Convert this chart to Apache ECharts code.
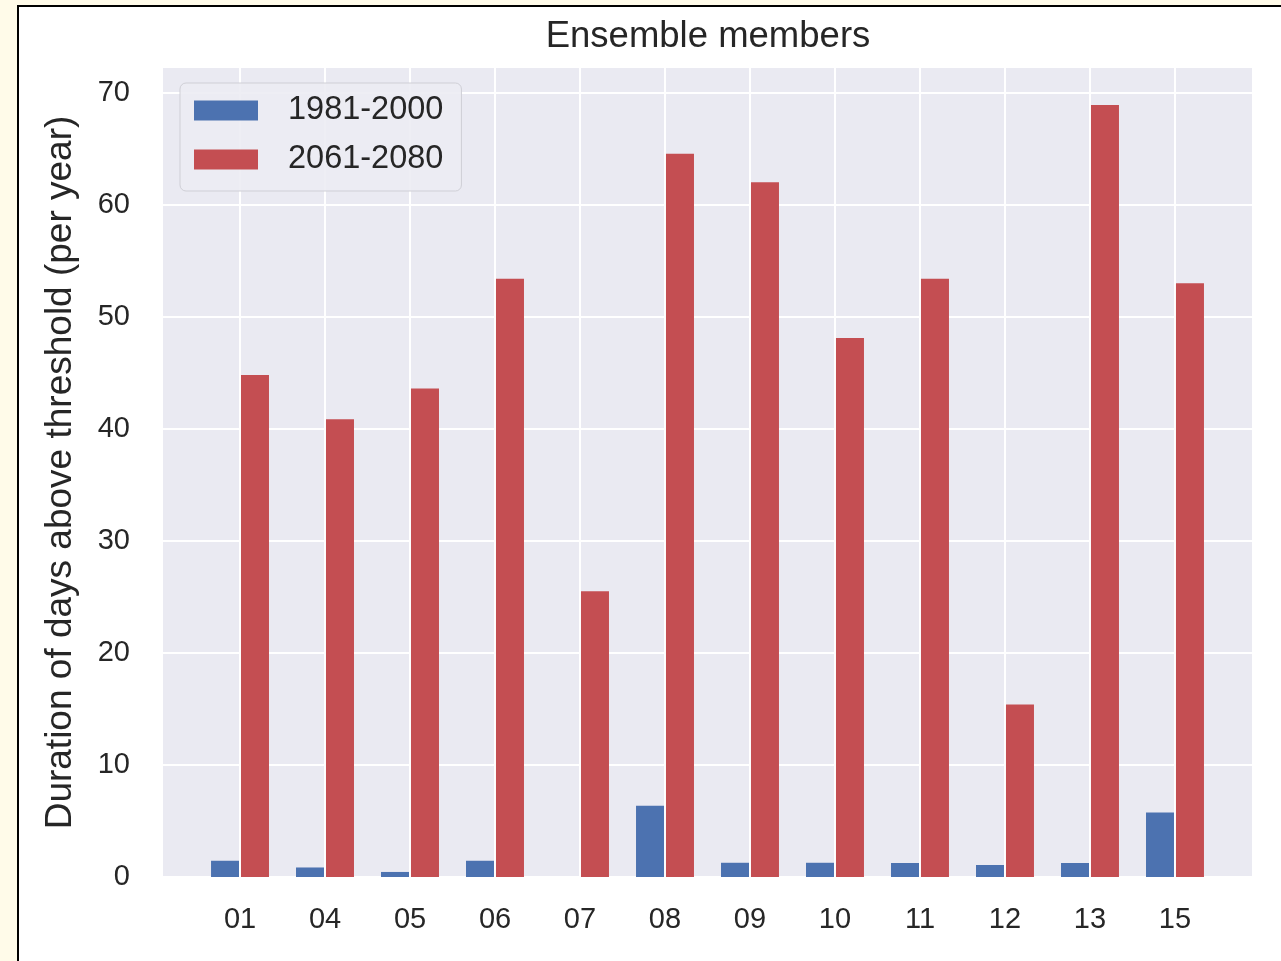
<!DOCTYPE html>
<html>
<head>
<meta charset="utf-8">
<script src="https://cdn.jsdelivr.net/npm/echarts@6/dist/echarts.min.js"></script>
<style>
  html, body { margin: 0; padding: 0; background: #fffbe9; width: 1281px; height: 961px; overflow: hidden; }
  #frame { position: absolute; left: 17px; top: 5px; width: 1300px; height: 1000px; border: 2px solid #000; background: #fff; box-sizing: border-box; }
  #chart { position: absolute; left: 0; top: 0; width: 1281px; height: 961px; }
</style>
</head>
<body>
<div id="frame"></div>
<div id="chart"></div>
<script>
const members = ['01', '04', '05', '06', '07', '08', '09', '10', '11', '12', '13', '15'];
const hist = [1.45, 0.85, 0.45, 1.45, 0, 6.35, 1.27, 1.27, 1.25, 1.07, 1.25, 5.75];
const future = [44.8, 40.85, 43.6, 53.4, 25.5, 64.55, 62.0, 48.1, 53.4, 15.4, 68.9, 53.0];
const yTicks = [0, 10, 20, 30, 40, 50, 60, 70];
const seriesNames = ['1981-2000', '2061-2080'];
const titleText = 'Ensemble members';
const yName = 'Duration of days above threshold (per year)';

const positions = members.map((m, i) => i);
const font = "'Liberation Sans', Arial, sans-serif";
const textColor = '#262626';

const chart = echarts.init(document.getElementById('chart'), null, { renderer: 'canvas' });
chart.setOption({
  backgroundColor: 'transparent',
  animation: false,
  textStyle: { fontFamily: font },
  title: {
    text: titleText,
    left: 703,
    top: 13,
    textAlign: 'center',
    textStyle: { fontFamily: font, fontSize: 36.5, fontWeight: 'normal', color: textColor }
  },
  legend: {
    orient: 'vertical',
    left: 180,
    top: 83,
    icon: 'rect',
    itemWidth: 64,
    itemHeight: 20,
    itemGap: 16,
    padding: [11, 18, 15, 14],
    backgroundColor: 'rgba(236,236,243,0.9)',
    borderColor: '#cfcfd6',
    borderWidth: 1,
    borderRadius: 6,
    textStyle: { fontFamily: font, fontSize: 32.5, color: textColor, lineHeight: 32, padding: [0, 0, 0, 25] },
    data: seriesNames
  },
  grid: {
    left: 163, right: 29, top: 68, bottom: 84,
    show: true, backgroundColor: '#eaeaf2', borderWidth: 0, containLabel: false
  },
  xAxis: {
    type: 'value',
    min: -0.906,
    max: 11.906,
    axisLine: { show: false },
    axisTick: { show: false, customValues: positions },
    splitLine: { show: true, lineStyle: { color: '#ffffff', width: 2 } },
    axisLabel: {
      customValues: positions,
      formatter: v => members[Math.round(v)],
      fontFamily: font, fontSize: 29, color: textColor, margin: 28
    }
  },
  yAxis: {
    type: 'value',
    min: 0,
    max: 72.2,
    name: yName,
    nameLocation: 'middle',
    nameGap: 84,
    nameTextStyle: { fontFamily: font, fontSize: 37, color: textColor },
    axisLine: { show: false },
    axisTick: { show: false, customValues: yTicks },
    splitLine: { show: true, lineStyle: { color: '#ffffff', width: 2 } },
    axisLabel: {
      customValues: yTicks,
      fontFamily: font, fontSize: 29, color: textColor, margin: 33
    }
  },
  series: [
    {
      name: seriesNames[0], type: 'bar',
      data: hist.map((v, i) => [positions[i], v]),
      barWidth: 28, barGap: '7%',
      itemStyle: { color: '#4c72b0' }
    },
    {
      name: seriesNames[1], type: 'bar',
      data: future.map((v, i) => [positions[i], v]),
      barWidth: 28, barGap: '7%',
      itemStyle: { color: '#c44e52' }
    }
  ]
});
</script>
</body>
</html>
